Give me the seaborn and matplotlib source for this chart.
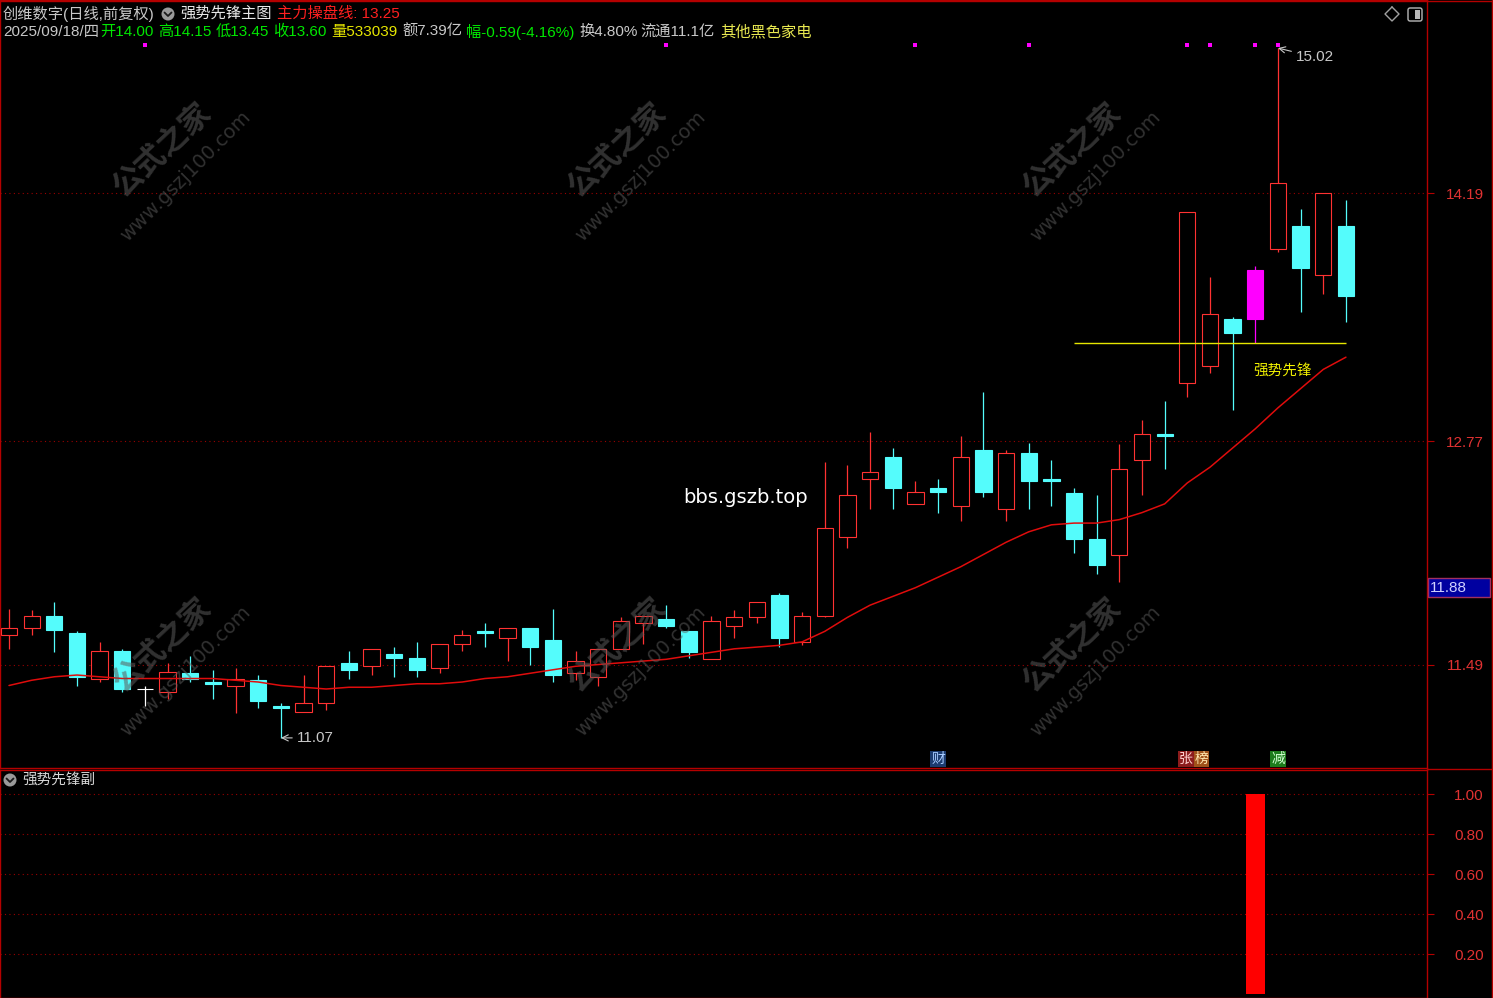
import numpy as np
import pandas as pd
import matplotlib
matplotlib.use("Agg")
import matplotlib.pyplot as plt
import seaborn as sns
from matplotlib.transforms import Affine2D, blended_transform_factory
from matplotlib.patches import Rectangle, Circle, FancyBboxPatch
from matplotlib.lines import Line2D

# ---------------- data ----------------
opens = [11.66, 11.70, 11.77, 11.67, 11.41, 11.57, 11.35, 11.33, 11.44, 11.39,
         11.37, 11.40, 11.25, 11.22, 11.27, 11.50, 11.48, 11.55, 11.53, 11.47,
         11.61, 11.68, 11.64, 11.70, 11.63, 11.44, 11.42, 11.58, 11.73, 11.75,
         11.68, 11.52, 11.71, 11.76, 11.89, 11.62, 11.77, 12.22, 12.55, 12.68,
         12.41, 12.50, 12.40, 12.72, 12.38, 12.70, 12.55, 12.47, 12.21, 12.12,
         12.66, 12.81, 13.10, 13.20, 13.47, 13.47, 13.87, 14.00, 13.72, 14.00]
highs = [11.81, 11.80, 11.85, 11.68, 11.62, 11.58, 11.37, 11.50, 11.54, 11.46,
         11.47, 11.43, 11.27, 11.43, 11.48, 11.57, 11.58, 11.59, 11.62, 11.61,
         11.69, 11.73, 11.70, 11.70, 11.81, 11.57, 11.58, 11.76, 11.77, 11.83,
         11.68, 11.77, 11.80, 11.85, 11.90, 11.79, 12.65, 12.63, 12.82, 12.73,
         12.54, 12.55, 12.80, 13.05, 12.72, 12.76, 12.66, 12.50, 12.46, 12.75,
         12.89, 13.00, 14.08, 13.71, 13.48, 13.77, 15.02, 14.10, 14.19, 14.15]
lows = [11.58, 11.66, 11.56, 11.37, 11.39, 11.33, 11.25, 11.29, 11.39, 11.29,
        11.21, 11.24, 11.07, 11.22, 11.23, 11.41, 11.43, 11.42, 11.42, 11.44,
        11.57, 11.59, 11.51, 11.49, 11.39, 11.40, 11.37, 11.58, 11.61, 11.70,
        11.53, 11.52, 11.64, 11.73, 11.59, 11.60, 11.76, 12.16, 12.38, 12.38,
        12.41, 12.36, 12.31, 12.45, 12.31, 12.38, 12.40, 12.13, 12.01, 11.96,
        12.46, 12.61, 13.02, 13.16, 12.95, 13.33, 13.85, 13.51, 13.61, 13.45]
closes = [11.70, 11.77, 11.69, 11.42, 11.57, 11.35, 11.35, 11.45, 11.41, 11.38,
          11.41, 11.28, 11.24, 11.27, 11.48, 11.46, 11.58, 11.53, 11.46, 11.61,
          11.66, 11.67, 11.70, 11.59, 11.43, 11.51, 11.58, 11.74, 11.77, 11.71,
          11.56, 11.74, 11.76, 11.85, 11.64, 11.77, 12.27, 12.46, 12.59, 12.50,
          12.48, 12.48, 12.68, 12.48, 12.70, 12.54, 12.54, 12.21, 12.06, 12.61,
          12.81, 12.80, 14.08, 13.50, 13.39, 13.75, 14.25, 13.76, 14.19, 13.60]
ma_line = [11.37, 11.40, 11.42, 11.43, 11.42, 11.41, 11.41, 11.41, 11.41, 11.41,
           11.40, 11.39, 11.37, 11.36, 11.35, 11.36, 11.36, 11.37, 11.38, 11.38,
           11.39, 11.41, 11.42, 11.44, 11.46, 11.48, 11.49, 11.50, 11.51, 11.52,
           11.54, 11.56, 11.58, 11.59, 11.60, 11.62, 11.68, 11.76, 11.83, 11.88,
           11.93, 11.99, 12.05, 12.12, 12.19, 12.25, 12.29, 12.30, 12.30, 12.32,
           12.36, 12.41, 12.53, 12.62, 12.73, 12.84, 12.96, 13.07, 13.18, 13.25]
signal_days = [6, 29, 40, 45, 52, 53, 55, 56]
signal_candle = 55
sub_values = [0.0] * 55 + [1.0] + [0.0] * 4
main_ticks = [11.49, 12.77, 14.19]
sub_ticks = [0.20, 0.40, 0.60, 0.80, 1.00]
cursor_price = 11.88

stock_name = "创维数字(日线,前复权)"
main_title = "强势先锋主图"
sub_title = "强势先锋副"
date_text = "2025/09/18/四"
volume_text = "533039"
amount_text = "7.39亿"
change_text = "-0.59(-4.16%)"
turnover_text = "4.80%"
float_text = "11.1亿"
industry_text = "其他黑色家电"
tags = [(41.0, "财", "#a8ccff", "#1c3c70"), (51.95, "张", "#ffd0d0", "#8c1c1c"),
        (52.62, "榜", "#ffe8b0", "#a0521a"), (56.0, "减", "#d0ffd0", "#1c7c1c")]

# ---------------- style ----------------
sns.set_theme(style="dark", rc={"axes.facecolor": "black", "figure.facecolor": "black",
                                "savefig.facecolor": "black"})
plt.rcParams["font.family"] = ["Liberation Sans", "Noto Sans CJK SC", "DejaVu Sans"]
plt.rcParams["axes.unicode_minus"] = False

W, H = 1493, 998
fig = plt.figure(figsize=(W / 100, H / 100), dpi=100)
px = Affine2D().scale(1 / W, -1 / H).translate(0, 1) + fig.transFigure

RED = "#ff3232"
CYAN = "#54fcfc"
FRAME = "#b40000"
GRIDC = "#9a0000"
LBL = "#e03232"

x0, x1 = -9 / 22.66, (1427 - 9) / 22.66
ax = fig.add_axes([0, (H - 768) / H, 1427 / W, 768 / H])
axs = fig.add_axes([0, 0, 1427 / W, 228 / H])

df = pd.DataFrame({"i": np.arange(len(opens)), "open": opens, "high": highs,
                   "low": lows, "close": closes, "ma": ma_line, "sub": sub_values})

# candle colours
face, edge = [], []
for k, r in df.iterrows():
    if int(r.i) == signal_candle:
        face.append("#ff00ff"); edge.append("#ff00ff")
    elif r.close > r.open:
        face.append("black"); edge.append(RED)
    elif r.close < r.open:
        face.append(CYAN); edge.append(CYAN)
    else:
        face.append("white"); edge.append("white")

ax.vlines(df.i, df.low, df.high, colors=edge, lw=0.9, zorder=2)
ax.bar(df.i, df.close - df.open, bottom=df.open, width=0.72, color=face,
       edgecolor=edge, linewidth=0.8, zorder=3)

sns.lineplot(data=df, x="i", y="ma", ax=ax, color="#e00c0c", lw=1.1, zorder=4)

# signal line + label
ax.hlines(lows[signal_candle], 47, 59, color="#e6e600", lw=1.0, zorder=4)
ax.text(54.9, 13.17, "强势先锋", color="#f0f000", fontsize=10.5, va="center", zorder=6)

# signal dots at top
bt = blended_transform_factory(ax.transData, ax.transAxes)
ax.scatter(signal_days, [1 - 45 / 768] * len(signal_days), transform=bt, marker="s",
           s=5, color="#ff00ff", linewidths=0, zorder=6)

# high / low annotations
ih, il = int(np.argmax(highs)), int(np.argmin(lows))
ax.annotate(f"{highs[ih]:.2f}", xy=(ih, highs[ih]), xytext=(13, -6.5), textcoords="offset points",
            color="#c8c8c8", fontsize=11, va="center",
            arrowprops=dict(arrowstyle="->", color="#c8c8c8", lw=0.8, shrinkA=1, shrinkB=0))
ax.annotate(f"{lows[il]:.2f}", xy=(il, lows[il]), xytext=(11.5, 0), textcoords="offset points",
            color="#c8c8c8", fontsize=11, va="center",
            arrowprops=dict(arrowstyle="->", color="#c8c8c8", lw=0.8, shrinkA=1, shrinkB=0))

# bottom tags
for xi, s, fc, bc in tags:
    ax.text(xi, 1 - 759 / 768, s, transform=bt, ha="center", va="center", color=fc,
            fontsize=10, zorder=7, bbox=dict(facecolor=bc, edgecolor="none", pad=0.6))

ax.text(683 / 1427 * (x1 - x0) + x0, 15.2952 - 0.005726 * 497, "bbs.gszb.top",
        color="white", fontsize=14, va="center", family="DejaVu Sans", zorder=7)

# axes config main
ax.set_xlim(x0, x1)
ax.set_ylim(15.2952 - 0.005726 * 768, 15.2952)
ax.set_xticks([])
ax.yaxis.tick_right()
ax.set_yticks(main_ticks)
ax.set_yticklabels([f"{v:.2f}" for v in main_ticks])
ax.set_xlabel(""); ax.set_ylabel("")
ax.grid(False)
for v in main_ticks:
    ax.axhline(v, color=GRIDC, lw=0.8, ls=(0, (1, 3)), zorder=1)

# sub pane
axs.bar(df.i, df["sub"], width=0.84, color="#ff0000", linewidth=0, zorder=3)
axs.set_xlim(x0, x1)
axs.set_ylim(-0.02, 1.12)
axs.set_xticks([])
axs.yaxis.tick_right()
axs.set_yticks(sub_ticks)
axs.set_yticklabels([f"{v:.2f}" for v in sub_ticks])
axs.grid(False)
for v in sub_ticks:
    axs.axhline(v, color=GRIDC, lw=0.8, ls=(0, (1, 3)), zorder=1)

for a in (ax, axs):
    a.tick_params(axis="y", colors=FRAME, labelcolor=LBL, length=5, width=0.8,
                  pad=36, labelsize=11, direction="out")
    for lab in a.get_yticklabels():
        lab.set_horizontalalignment("right")
    for sp in a.spines.values():
        sp.set_visible(True); sp.set_color(FRAME); sp.set_linewidth(1.0)

# figure frame lines
for xs, ys in [([1427, W], [769, 769]), ([W - 1.5, W - 1.5], [0, H]), ([0, W], [0.5, 0.5])]:
    fig.add_artist(Line2D(xs, ys, transform=px, color=FRAME, lw=1.0))

# ---------------- header ----------------
def ftext(x, y, s, color, size=11, **kw):
    fig.text(x / W, 1 - y / H, s, color=color, fontsize=size, va="center", ha="left", **kw)

GRAY, GREEN, YEL = "#c8c8c8", "#00e600", "#e6e600"
ftext(3, 14, stock_name, GRAY)
fig.add_artist(Circle((168, 14), 6.5, transform=px, facecolor="#9a9a9a", edgecolor="none"))
fig.add_artist(Line2D([164.5, 168, 171.5], [12.5, 16, 12.5], transform=px, color="#1a1a1a", lw=1.3))
ftext(180, 14, main_title, "#e8e8e8")
ftext(277, 14, f"主力操盘线: {ma_line[-1]:.2f}", "#ff2020")

row2 = [(3, date_text, GRAY), (100, f"开{opens[-1]:.2f}", GREEN), (158, f"高{highs[-1]:.2f}", GREEN),
        (216, f"低{lows[-1]:.2f}", GREEN), (273, f"收{closes[-1]:.2f}", GREEN),
        (331, f"量{volume_text}", YEL), (402, f"额{amount_text}", GRAY),
        (466, f"幅{change_text}", GREEN), (579, f"换{turnover_text}", GRAY),
        (640, f"流通{float_text}", GRAY), (720, industry_text, "#e8e850")]
for x, s, c in row2:
    ftext(x, 32, s, c)

# top right icons
fig.add_artist(Line2D([1392, 1399, 1392, 1385, 1392], [7, 14, 21, 14, 7], transform=px,
                      color="#a0a0a0", lw=1.0))
fig.add_artist(FancyBboxPatch((1408, 8), 14, 13, boxstyle="round,pad=0,rounding_size=2",
                              transform=px, edgecolor="#b8b8b8", facecolor="none", lw=1.0))
fig.add_artist(Rectangle((1415, 10), 5, 9, transform=px, facecolor="#b8b8b8", edgecolor="none"))

# sub pane title
fig.add_artist(Circle((10, 780), 6.5, transform=px, facecolor="#9a9a9a", edgecolor="none"))
fig.add_artist(Line2D([6.5, 10, 13.5], [778.5, 782, 778.5], transform=px, color="#1a1a1a", lw=1.3))
ftext(22, 780, sub_title, "#d8d8d8", size=10.5)

# cursor price box
fig.add_artist(Rectangle((1428, 578), 62, 19, transform=px, facecolor="#0000a0",
                         edgecolor="#a03060", lw=1.0))
ftext(1430, 587.5, f"{cursor_price:.2f}", "#d0d0ff", size=11)

# watermarks
for gx in (0, 455, 910):
    for gy in (0, 495):
        fig.text((162 + gx) / W, 1 - (150 + gy) / H, "公式之家", rotation=43, ha="center",
                 va="center", fontsize=22, color="#5a5a5a", alpha=0.55, weight="bold",
                 family=["Noto Sans CJK SC"], zorder=10)
        fig.text((186 + gx) / W, 1 - (176 + gy) / H, "www.gszj100.com", rotation=45,
                 ha="center", va="center", fontsize=14, color="#5a5a5a", alpha=0.55,
                 family=["DejaVu Sans"], zorder=10)

fig.savefig("out.png", dpi=100, facecolor="black")
